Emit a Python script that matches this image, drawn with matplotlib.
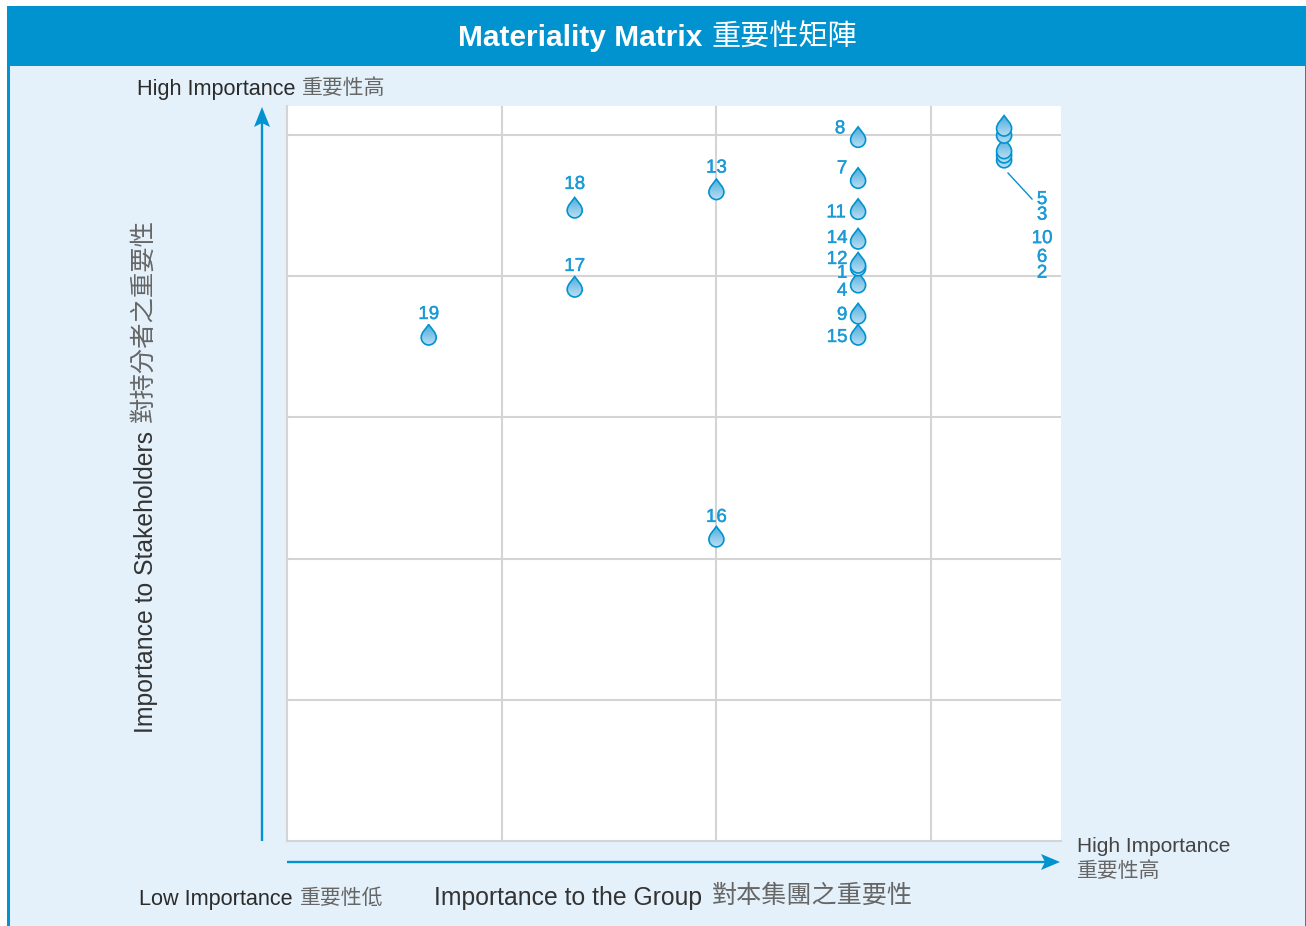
import matplotlib
matplotlib.use('Agg')
from matplotlib import pyplot as plt
from matplotlib import patheffects
from matplotlib.patches import PathPatch, Rectangle
from matplotlib.path import Path
from matplotlib.colors import LinearSegmentedColormap
from matplotlib.transforms import Affine2D
import numpy as np

FONT = ['Liberation Sans', 'Noto Sans CJK TC']
BLUE = '#0093d0'
LABEL_BLUE = '#1a9ad6'
PANEL = '#e4f1fa'
GRID = '#d4d4d4'
W, H = 1306, 926

# issue number, importance to group, importance to stakeholders
issues = [19, 17, 18, 13, 16, 15, 9, 4, 1, 12, 14, 11, 7, 8, 2, 6, 3, 10, 5]
group = [1.66, 2.34, 2.34, 3.0, 3.0, 3.66, 3.66, 3.66, 3.66, 3.66, 3.66, 3.66,
         3.66, 3.66, 4.34, 4.34, 4.34, 4.34, 4.34]
stakeholders = [3.58, 3.92, 4.48, 4.61, 2.15, 3.58, 3.73, 3.95, 4.07, 4.09, 4.26,
                4.47, 4.69, 4.98, 4.835, 4.87, 4.90, 5.01, 5.06]

# where the number sits relative to its drop, in pixels
label_offset = {19: (0, 21), 17: (0, 21), 18: (0, 24), 13: (0, 22), 16: (0, 20),
                15: (-21, -2), 9: (-16, -1), 4: (-16, -8), 1: (-16, -7), 12: (-21, 4),
                14: (-21, 1), 11: (-22, -3), 7: (-16, 10), 8: (-18, 9),
                2: (38, -115), 6: (38, -104), 3: (38, -66), 10: (38, -105), 5: (38, -73)}


def px(x, y):
    return x / W, 1 - y / H


def drop_path():
    # tip at the top, round belly, origin in the middle of the drop
    verts = [(0, 11), (-3, 6.5), (-7.5, 3), (-7.5, -2),
             (-7.5, -6.1), (-4.1, -9.5), (0, -9.5),
             (4.1, -9.5), (7.5, -6.1), (7.5, -2),
             (7.5, 3), (3, 6.5), (0, 11), (0, 11)]
    codes = [Path.MOVETO] + [Path.CURVE4] * 12 + [Path.CLOSEPOLY]
    return Path(verts, codes)


fig = plt.figure(figsize=(W / 100, H / 100), dpi=100)
fig.patches.append(Rectangle(px(7, 926), 1299 / W, 920 / H, transform=fig.transFigure, fc=BLUE, ec='none', zorder=-2))
fig.patches.append(Rectangle(px(10, 926), 1295 / W, 860 / H, transform=fig.transFigure, fc=PANEL, ec='none', zorder=-1))

fig.text(*px(458, 38), 'Materiality Matrix', family=FONT, weight='bold', size=21.5, color='white', va='center')
fig.text(*px(712, 38), '重要性矩陣', family=FONT, size=21, color='white', va='center')

ax = fig.add_axes([287 / W, 1 - 841 / H, 774 / W, 735 / H])
ax.set_xlim(1, 1 + 774 / 214.7)
ax.set_ylim(0, 735 / 141.2)
ax.set_xticks([2, 3, 4])
ax.set_yticks([1, 2, 3, 4, 5])
ax.grid(color=GRID, lw=1.5)
ax.set_axisbelow(True)
ax.tick_params(length=0, labelbottom=False, labelleft=False)
for side in ['top', 'right']:
    ax.spines[side].set_visible(False)
for side in ['left', 'bottom']:
    ax.spines[side].set_color(GRID)
    ax.spines[side].set_linewidth(1.5)

sx = 214.7
sy = 141.2
drop = drop_path()
cmap = LinearSegmentedColormap.from_list('drop', ['#4eaedd', '#bcdff3'])
grad = np.linspace(0, 1, 32).reshape(-1, 1)
xlim, ylim = ax.get_xlim(), ax.get_ylim()
bolder = [patheffects.withStroke(linewidth=0.3, foreground=LABEL_BLUE)]
for z, (n, x, y) in enumerate(zip(issues, group, stakeholders)):
    tr = Affine2D().scale(1 / sx, 1 / sy).translate(x, y) + ax.transData
    im = ax.imshow(grad, extent=[x - 8 / sx, x + 8 / sx, y - 10 / sy, y + 11 / sy], origin='upper',
                   aspect='auto', cmap=cmap, zorder=3 + z * 0.01, interpolation='bilinear')
    patch = PathPatch(drop, transform=tr, fc='none', ec=BLUE, lw=1.2, zorder=3.005 + z * 0.01)
    ax.add_patch(patch)
    im.set_clip_path(patch)
    dx, dy = label_offset[n]
    ax.annotate(str(n), (x, y), xytext=(dx * 0.72, dy * 0.72), textcoords='offset points', ha='center',
                va='center', family=FONT, size=13.5, color=LABEL_BLUE, zorder=5,
                annotation_clip=False, path_effects=bolder)
ax.set_xlim(xlim)
ax.set_ylim(ylim)

# leader from the top right cluster to its numbers
fig.add_artist(plt.Line2D([1008 / W, 1032 / W], [1 - 173 / H, 1 - 199 / H], color=BLUE, lw=1))

# axis arrows
fig.add_artist(plt.Line2D([262 / W, 262 / W], [1 - 841 / H, 1 - 120 / H], color=BLUE, lw=1.7, solid_capstyle='butt'))
fig.add_artist(plt.Line2D([287 / W, 1045 / W], [1 - 862 / H, 1 - 862 / H], color=BLUE, lw=1.7, solid_capstyle='butt'))
fig.patches.append(plt.Polygon([px(262, 107), px(254, 127), px(262, 123), px(270, 127)], transform=fig.transFigure, fc=BLUE, ec='none'))
fig.patches.append(plt.Polygon([px(1060, 862), px(1041, 854), px(1045, 862), px(1041, 870)], transform=fig.transFigure, fc=BLUE, ec='none'))

DARK = '#2b2b2b'
GREY = '#666666'
fig.text(*px(137, 89), 'High Importance', family=FONT, size=15.6, color=DARK, va='center')
fig.text(*px(302, 88), '重要性高', family=FONT, size=15, color=GREY, va='center')
fig.text(*px(139, 899), 'Low Importance', family=FONT, size=15.6, color=DARK, va='center')
fig.text(*px(300, 898), '重要性低', family=FONT, size=15, color=GREY, va='center')
fig.text(*px(1077, 846), 'High Importance', family=FONT, size=15, color='#444444', va='center')
fig.text(*px(1077, 871), '重要性高', family=FONT, size=15, color=GREY, va='center')
fig.text(*px(434, 898), 'Importance to the Group', family=FONT, size=17.8, color='#333333', va='center')
fig.text(*px(712, 896), '對本集團之重要性', family=FONT, size=18.1, color=GREY, va='center')
fig.text(*px(146, 733), 'Importance to Stakeholders', family=FONT, size=17.8, color='#333333', va='bottom',
         ha='center', rotation=90)
fig.text(*px(144, 422), '對持分者之重要性', family=FONT, size=18.3, color=GREY, va='bottom', ha='center', rotation=90)

fig.savefig('out.png', dpi=100)
